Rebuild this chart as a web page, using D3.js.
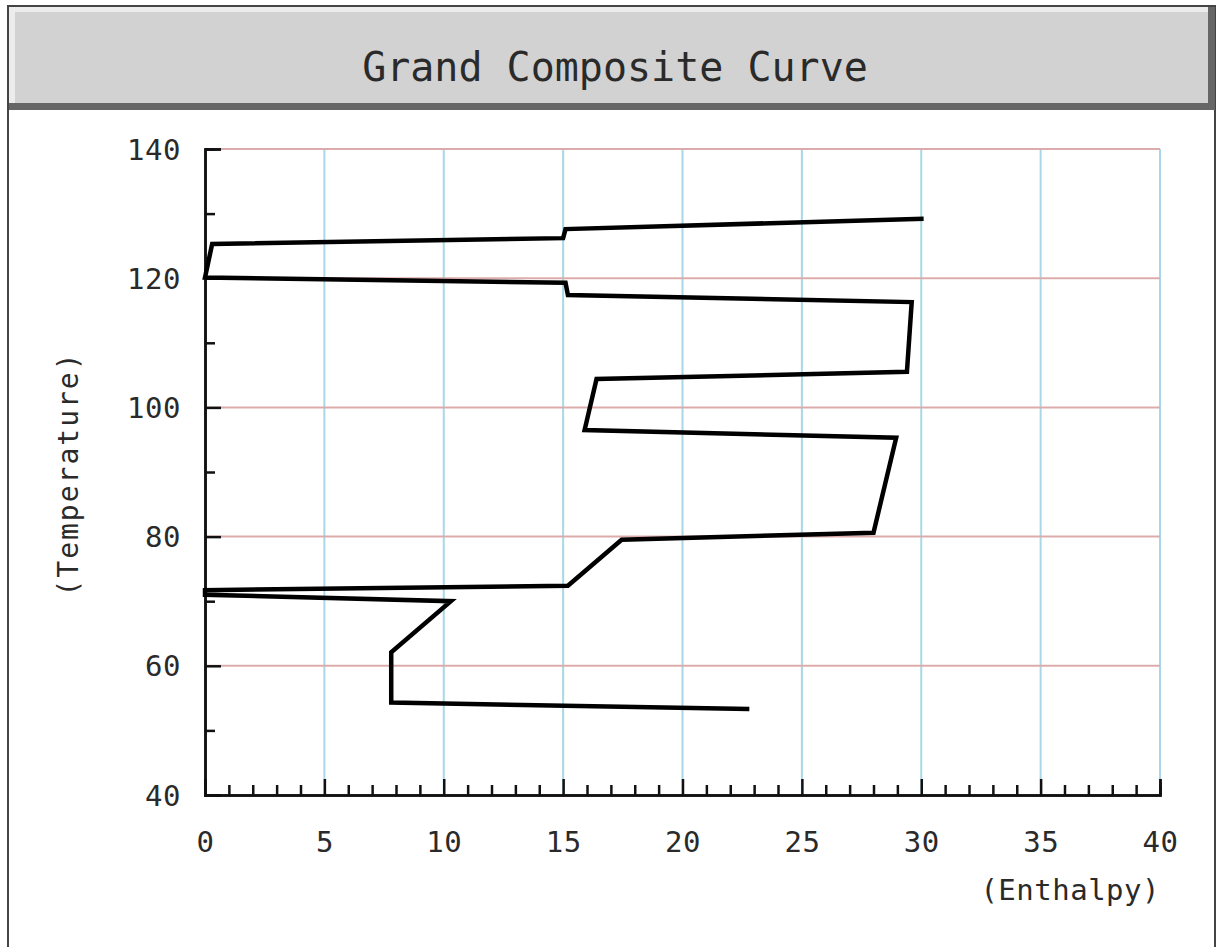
<!DOCTYPE html>
<html>
<head>
<meta charset="utf-8">
<script src="https://cdn.jsdelivr.net/npm/d3@7"></script>
<style>
  body { margin: 0; background: #fff; }
  text { font-family: "DejaVu Sans Mono", monospace; fill: #2a2a2a; }
</style>
</head>
<body>
<div id="chart"></div>
<script>
// values
var enthalpy    = [30.1, 15.1, 15.0, 0.3, 0.0, 15.1, 15.2, 29.6, 29.4, 16.4, 15.9, 28.95, 28.0, 17.45, 15.2, 0.0, 0.0, 10.3, 7.8, 7.8, 22.8];
var temperature = [129.2, 127.6, 126.2, 125.3, 120.1, 119.3, 117.4, 116.3, 105.5, 104.4, 96.5, 95.3, 80.6, 79.5, 72.4, 71.7, 71.0, 70.0, 62.1, 54.3, 53.3];
var xTicks = [0, 5, 10, 15, 20, 25, 30, 35, 40];
var yTicks = [40, 60, 80, 100, 120, 140];

var width = 1219, height = 947;

var svg = d3.select("#chart").append("svg")
    .attr("width", width)
    .attr("height", height);

// frame + title bar
svg.append("rect").attr("x", 8).attr("y", 6).attr("width", 1207).attr("height", 950)
    .attr("fill", "#fff").attr("stroke", "#444").attr("stroke-width", 2);

svg.append("rect").attr("x", 9).attr("y", 7).attr("width", 1206).attr("height", 103).attr("fill", "#666");
svg.append("rect").attr("x", 9).attr("y", 7).attr("width", 1199).attr("height", 96).attr("fill", "#ececec");
svg.append("rect").attr("x", 15).attr("y", 12).attr("width", 1193).attr("height", 91).attr("fill", "#d2d2d2");

svg.append("text")
    .attr("x", 615).attr("y", 81)
    .attr("text-anchor", "middle")
    .attr("font-size", 40)
    .text("Grand Composite Curve");

var x = d3.scaleLinear().domain([0, 40]).range([205, 1160]);
var y = d3.scaleLinear().domain([40, 140]).range([795, 149]);

// grid
svg.append("g").selectAll("line")
    .data(xTicks.slice(1))
    .enter().append("line")
    .attr("x1", function(d) { return x(d); })
    .attr("x2", function(d) { return x(d); })
    .attr("y1", y(140)).attr("y2", y(40))
    .attr("stroke", "#a9d7e9").attr("stroke-width", 2);

svg.append("g").selectAll("line")
    .data(yTicks.slice(1))
    .enter().append("line")
    .attr("x1", x(0)).attr("x2", x(40))
    .attr("y1", function(d) { return y(d); })
    .attr("y2", function(d) { return y(d); })
    .attr("stroke", "#dcacac").attr("stroke-width", 2);

// axes, ticks pointing inward
var yAxis = svg.append("g")
    .attr("transform", "translate(" + x(0) + ",0)")
    .call(d3.axisLeft(y).tickValues(yTicks).tickSize(-16).tickFormat(d3.format("d")));

svg.append("g")
    .attr("transform", "translate(" + x(0) + ",0)")
    .call(d3.axisLeft(y).tickValues(d3.range(50, 140, 20)).tickSize(-10).tickFormat(""));

var xAxis = svg.append("g")
    .attr("transform", "translate(0," + y(40) + ")")
    .call(d3.axisBottom(x).tickValues(xTicks).tickSize(-16).tickPadding(36).tickFormat(d3.format("d")));

svg.append("g")
    .attr("transform", "translate(0," + y(40) + ")")
    .call(d3.axisBottom(x).tickValues(d3.range(0, 41).filter(function(d) { return d % 5 != 0; })).tickSize(-10).tickFormat(""));

svg.selectAll(".domain").attr("stroke", "#111").attr("stroke-width", 2.5);
svg.selectAll(".tick line").attr("stroke", "#111").attr("stroke-width", 2.5);
svg.selectAll(".tick text")
    .attr("font-family", "DejaVu Sans Mono")
    .attr("font-size", 29)
    .attr("letter-spacing", 0.5)
    .attr("fill", "#2a2a2a");
yAxis.selectAll(".tick text").attr("x", -24).attr("dy", "0.35em");

// axis titles
svg.append("text")
    .attr("transform", "translate(78,474) rotate(-90)")
    .attr("text-anchor", "middle")
    .attr("font-size", 28)
    .attr("letter-spacing", 2)
    .text("(Temperature)");

svg.append("text")
    .attr("x", 1160).attr("y", 900)
    .attr("text-anchor", "end")
    .attr("font-size", 29)
    .attr("letter-spacing", 0.5)
    .text("(Enthalpy)");

// curve
var pts = enthalpy.map(function(d, i) { return [d, temperature[i]]; });

var line = d3.line()
    .x(function(d) { return x(d[0]); })
    .y(function(d) { return y(d[1]); });

svg.append("path")
    .datum(pts)
    .attr("d", line)
    .attr("fill", "none")
    .attr("stroke", "#000")
    .attr("stroke-width", 4.5)
    .attr("stroke-linejoin", "miter");
</script>
</body>
</html>
